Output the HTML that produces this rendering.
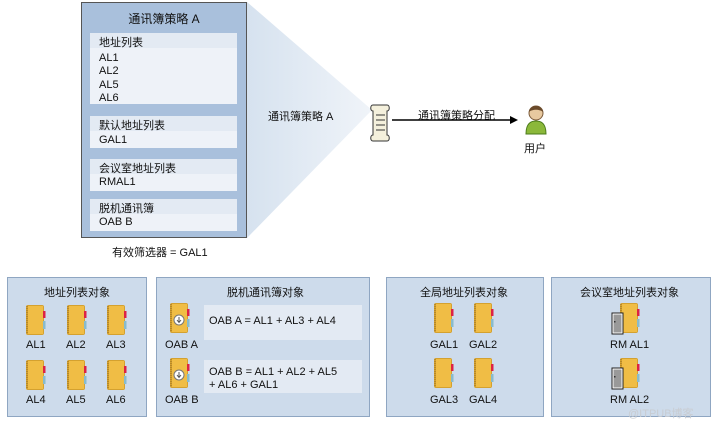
<!DOCTYPE html>
<html><head><meta charset="utf-8"><style>
body{margin:0;width:720px;height:428px;background:#fff;position:relative;overflow:hidden;font-family:"Liberation Sans","Noto Sans CJK SC",sans-serif;font-size:11px;color:#111}
.a{position:absolute}
.box{position:absolute;background:#cddbeb;border:1px solid #8fa6c2;box-sizing:border-box}
.t{position:absolute;white-space:nowrap}
.hd{position:absolute;background:#e3eaf3;left:8px;width:147px}
.ct{position:absolute;background:#eef2f8;left:8px;width:147px}
</style></head><body>
<svg class="a" style="left:0;top:0;z-index:5" width="720" height="428">
<defs>
<linearGradient id="tri" x1="0" x2="1"><stop offset="0" stop-color="#d6e2ef"/><stop offset="1" stop-color="#f0f4f9"/></linearGradient>
<g id="book"><rect x="0" y="0" width="18" height="30" rx="2" fill="#d4a12f"/><rect x="2" y="1" width="15" height="28" fill="#f0bd45"/><rect x="17" y="6" width="2.5" height="7" fill="#d24"/><rect x="17" y="16" width="2.5" height="8" fill="#8bc"/><line x1="1" y1="1" x2="1" y2="29" stroke="#9a7020" stroke-dasharray="1 1"/></g>
<g id="door"><rect x="0" y="0" width="11" height="21" fill="#fff" stroke="#222"/><rect x="1.5" y="1.5" width="8" height="18" fill="#999"/><rect x="2" y="8" width="1.5" height="1.5" fill="#333"/></g>
</defs>
<polygon points="247,2 372,110 247,238" fill="url(#tri)"/>
<line x1="392" y1="120" x2="512" y2="120" stroke="#000" stroke-width="1.5"/>
<polygon points="518,120 510,116 510,124" fill="#000"/>
<g transform="translate(370,103)"><path d="M3,2 h14 c3,0 3,6 0,6 v24 c3,0 3,6 0,6 h-14 c-3,0 -3,-6 0,-6 v-24 c-3,0 -3,-6 0,-6z" fill="#f4f0dc" stroke="#333"/><line x1="6" y1="12" x2="15" y2="12" stroke="#333"/><line x1="6" y1="17" x2="15" y2="17" stroke="#333"/><line x1="6" y1="22" x2="15" y2="22" stroke="#333"/><line x1="6" y1="27" x2="15" y2="27" stroke="#333"/></g>
<g transform="translate(526,104)"><path d="M0,30 c0,-10 4,-13 10,-13 c6,0 10,3 10,13z" fill="#8bb83a" stroke="#4a7a1a"/><circle cx="10" cy="9" r="7" fill="#e8c9a0" stroke="#7a5a3a"/><path d="M3,8 c0,-8 14,-8 14,0 c-3,-3 -11,-3 -14,0z" fill="#6a4a2a"/></g>
<use href="#book" x="26" y="305"/><use href="#book" x="67" y="305"/><use href="#book" x="107" y="305"/>
<use href="#book" x="26" y="360"/><use href="#book" x="67" y="360"/><use href="#book" x="107" y="360"/>
<use href="#book" x="170" y="303"/><use href="#book" x="170" y="358"/>
<circle cx="179" cy="320" r="5" fill="#fff" stroke="#777"/><path d="M179,317v5M177,320l2,2.5l2,-2.5" stroke="#555" fill="none"/>
<circle cx="179" cy="375" r="5" fill="#fff" stroke="#777"/><path d="M179,372v5M177,375l2,2.5l2,-2.5" stroke="#555" fill="none"/>
<use href="#book" x="434" y="303"/><use href="#book" x="474" y="303"/>
<use href="#book" x="434" y="358"/><use href="#book" x="474" y="358"/>
<use href="#book" x="620" y="303"/><use href="#book" x="620" y="358"/>
<use href="#door" x="612" y="313"/><use href="#door" x="612" y="368"/>
</svg>
<div class="a" style="left:81px;top:2px;width:166px;height:236px;background:#a9c0dc;border:1px solid #555;box-sizing:border-box">
<div class="t" style="left:0;width:164px;text-align:center;top:7px;font-size:12px">通讯簿策略 A</div>
<div class="hd" style="top:30px;height:15px"></div><div class="ct" style="top:45px;height:56px"></div>
<div class="t" style="left:17px;top:31px">地址列表</div>
<div class="t" style="left:17px;top:49px;line-height:13.3px">AL1<br>AL2<br>AL5<br>AL6</div>
<div class="hd" style="top:113px;height:15px"></div><div class="ct" style="top:128px;height:17px"></div>
<div class="t" style="left:17px;top:114px">默认地址列表</div><div class="t" style="left:17px;top:131px">GAL1</div>
<div class="hd" style="top:156px;height:15px"></div><div class="ct" style="top:171px;height:17px"></div>
<div class="t" style="left:17px;top:157px">会议室地址列表</div><div class="t" style="left:17px;top:173px">RMAL1</div>
<div class="hd" style="top:196px;height:15px"></div><div class="ct" style="top:211px;height:17px"></div>
<div class="t" style="left:17px;top:197px">脱机通讯簿</div><div class="t" style="left:17px;top:213px">OAB B</div>
</div>
<div class="t" style="left:112px;top:244px">有效筛选器 = GAL1</div>
<div class="t" style="left:268px;top:108px;z-index:6">通讯簿策略 A</div>
<div class="t" style="left:418px;top:107px">通讯簿策略分配</div>
<div class="t" style="left:524px;top:140px">用户</div>
<div class="box" style="left:7px;top:277px;width:140px;height:140px"></div>
<div class="box" style="left:156px;top:277px;width:214px;height:140px"></div>
<div class="box" style="left:386px;top:277px;width:158px;height:140px"></div>
<div class="box" style="left:551px;top:277px;width:160px;height:140px"></div>
<div class="t" style="left:44px;top:284px">地址列表对象</div>
<div class="t" style="left:227px;top:284px">脱机通讯簿对象</div>
<div class="t" style="left:420px;top:284px">全局地址列表对象</div>
<div class="t" style="left:580px;top:284px">会议室地址列表对象</div>
<div class="t" style="left:26px;top:339px">AL1</div><div class="t" style="left:66px;top:339px">AL2</div><div class="t" style="left:106px;top:339px">AL3</div>
<div class="t" style="left:26px;top:394px">AL4</div><div class="t" style="left:66px;top:394px">AL5</div><div class="t" style="left:106px;top:394px">AL6</div>
<div class="t" style="left:165px;top:339px">OAB A</div><div class="t" style="left:165px;top:394px">OAB B</div>
<div class="a" style="left:204px;top:305px;width:158px;height:35px;background:#e3eaf3"></div>
<div class="a" style="left:204px;top:360px;width:158px;height:33px;background:#e3eaf3"></div>
<div class="t" style="left:209px;top:315px">OAB A = AL1 + AL3 + AL4</div>
<div class="t" style="left:209px;top:366px;line-height:13px">OAB B = AL1 + AL2 + AL5<br>+ AL6 + GAL1</div>
<div class="t" style="left:430px;top:339px">GAL1</div><div class="t" style="left:469px;top:339px">GAL2</div>
<div class="t" style="left:430px;top:394px">GAL3</div><div class="t" style="left:469px;top:394px">GAL4</div>
<div class="t" style="left:610px;top:339px">RM AL1</div><div class="t" style="left:610px;top:394px">RM AL2</div>
<div class="t" style="left:628px;top:405px;color:#c8ccd2;font-size:11px">@ITPUB博客</div>
</body></html>
